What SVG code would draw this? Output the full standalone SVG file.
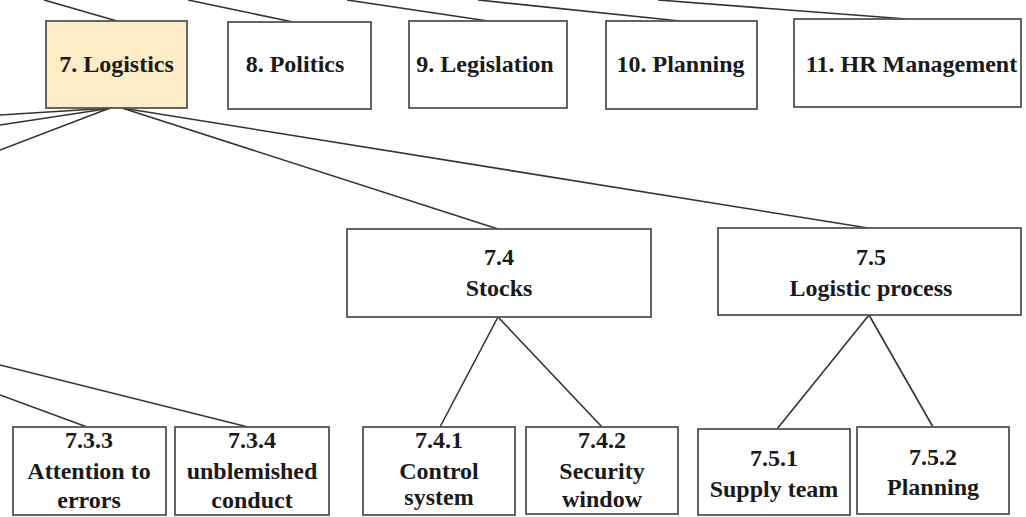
<svg xmlns="http://www.w3.org/2000/svg" width="1026" height="517" viewBox="0 0 1026 517">
  <style>
    .box { fill: #ffffff; stroke: #555555; stroke-width: 1.8; }
    .hl { fill: #fdedc6; }
    .lbl { font-family: 'Liberation Serif', 'DejaVu Serif', serif; font-weight: 700; font-size: 24px; fill: #1a1a1a; text-anchor: middle; }
    .edge { stroke: #333333; stroke-width: 1.6; fill: none; }
  </style>

  <!-- connectors -->
  <g id="connectors">
    <!-- from upper level into the second row -->
    <line class="edge" x1="44" y1="0" x2="117" y2="21"/>
    <line class="edge" x1="188" y1="0" x2="293" y2="22"/>
    <line class="edge" x1="347" y1="0" x2="488" y2="21"/>
    <line class="edge" x1="478" y1="0" x2="680" y2="21"/>
    <line class="edge" x1="658" y1="0" x2="907" y2="19"/>
    <!-- 7. Logistics children -->
    <line class="edge" x1="112" y1="108" x2="0" y2="115"/>
    <line class="edge" x1="112" y1="108" x2="0" y2="125"/>
    <line class="edge" x1="110" y1="108" x2="0" y2="150"/>
    <line class="edge" x1="122" y1="108" x2="498" y2="229"/>
    <line class="edge" x1="122" y1="108" x2="868" y2="228"/>
    <!-- 7.3 children (parent off the left edge) -->
    <line class="edge" x1="0" y1="365" x2="248" y2="427"/>
    <line class="edge" x1="0" y1="395" x2="87" y2="427"/>
    <!-- 7.4 children -->
    <line class="edge" x1="498" y1="317" x2="440" y2="427"/>
    <line class="edge" x1="498" y1="317" x2="602" y2="427"/>
    <!-- 7.5 children -->
    <line class="edge" x1="869" y1="315" x2="777" y2="429"/>
    <line class="edge" x1="869" y1="315" x2="933" y2="427"/>
  </g>

  <!-- top row -->
  <g id="n7">
    <rect class="box hl" x="46" y="21" width="141" height="87"/>
    <text class="lbl" x="116.5" y="72">7. Logistics</text>
  </g>
  <g id="n8">
    <rect class="box" x="228" y="22" width="143" height="87"/>
    <text class="lbl" x="295" y="72">8. Politics</text>
  </g>
  <g id="n9">
    <rect class="box" x="409" y="21" width="158" height="87"/>
    <text class="lbl" x="485" y="72">9. Legislation</text>
  </g>
  <g id="n10">
    <rect class="box" x="606" y="21" width="151" height="88"/>
    <text class="lbl" x="680.5" y="72">10. Planning</text>
  </g>
  <g id="n11">
    <rect class="box" x="794" y="19" width="227" height="88"/>
    <text class="lbl" x="911.5" y="72">11. HR Management</text>
  </g>

  <!-- middle row -->
  <g id="n7_4">
    <rect class="box" x="347" y="229" width="304" height="88"/>
    <text class="lbl" x="499" y="265">7.4</text>
    <text class="lbl" x="499" y="296">Stocks</text>
  </g>
  <g id="n7_5">
    <rect class="box" x="718" y="228" width="303" height="87"/>
    <text class="lbl" x="871" y="265">7.5</text>
    <text class="lbl" x="871" y="296">Logistic process</text>
  </g>

  <!-- bottom row -->
  <g id="n7_3_3">
    <rect class="box" x="13" y="427" width="153" height="88"/>
    <text class="lbl" x="89" y="448">7.3.3</text>
    <text class="lbl" x="89" y="479">Attention to</text>
    <text class="lbl" x="89" y="508">errors</text>
  </g>
  <g id="n7_3_4">
    <rect class="box" x="175" y="427" width="154" height="88"/>
    <text class="lbl" x="252" y="448">7.3.4</text>
    <text class="lbl" x="252" y="479">unblemished</text>
    <text class="lbl" x="252" y="508">conduct</text>
  </g>
  <g id="n7_4_1">
    <rect class="box" x="363" y="427" width="152" height="88"/>
    <text class="lbl" x="439" y="448">7.4.1</text>
    <text class="lbl" x="439" y="479">Control</text>
    <text class="lbl" x="439" y="505">system</text>
  </g>
  <g id="n7_4_2">
    <rect class="box" x="526" y="427" width="152" height="87"/>
    <text class="lbl" x="602" y="448">7.4.2</text>
    <text class="lbl" x="602" y="479">Security</text>
    <text class="lbl" x="602" y="507">window</text>
  </g>
  <g id="n7_5_1">
    <rect class="box" x="698" y="429" width="152" height="86"/>
    <text class="lbl" x="774" y="466">7.5.1</text>
    <text class="lbl" x="774" y="497">Supply team</text>
  </g>
  <g id="n7_5_2">
    <rect class="box" x="857" y="427" width="152" height="87"/>
    <text class="lbl" x="933" y="465">7.5.2</text>
    <text class="lbl" x="933" y="495">Planning</text>
  </g>
</svg>
